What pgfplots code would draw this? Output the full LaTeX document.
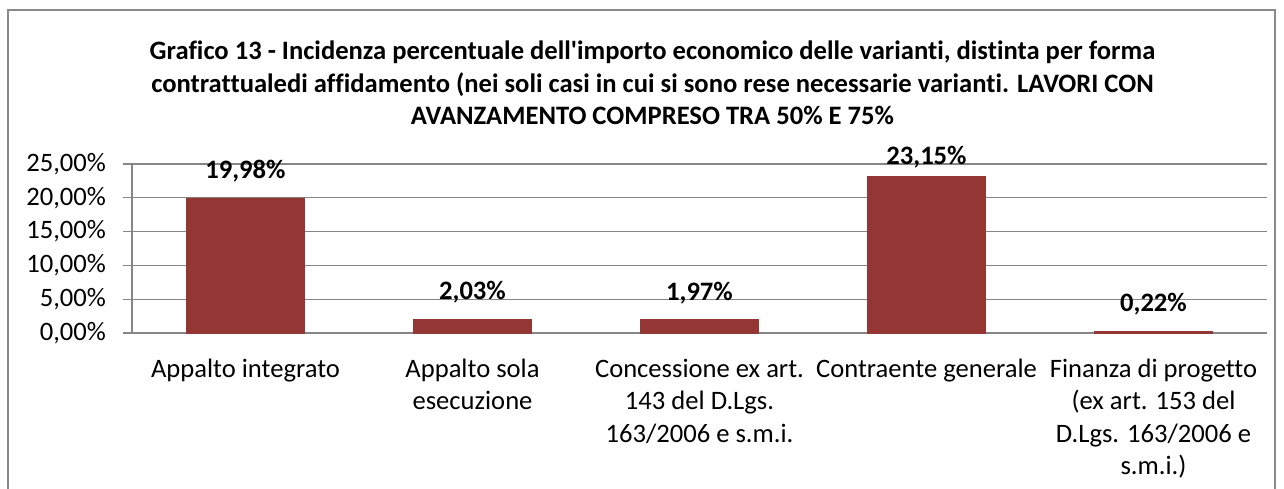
\documentclass[border=0pt]{standalone}
\usepackage{fontspec}
\setmainfont{Carlito}[Ligatures={NoCommon}]
\usepackage{pgfplots}
\pgfplotsset{compat=1.18}
\definecolor{barred}{HTML}{943634}
\definecolor{gridgray}{HTML}{868686}
\definecolor{framegray}{HTML}{8A8A8A}
\pgfplotstableread{
x y s
0 19.98 13.5
1 2.03 13.5
2 1.97 13.5
3 23.15 9.75
4 0.22 13.5
}\datatable
\begin{document}
\begin{tikzpicture}
\useasboundingbox (-66pt,-77.5pt) rectangle (576pt,166.5pt);
\draw[framegray, line width=1pt] (-62pt,-90pt) -- (-62pt,161.5pt) -- (571.5pt,161.5pt) -- (571.5pt,-90pt);
\begin{axis}[
  at={(0,0)}, anchor=south west,
  scale only axis, width=567.5pt, height=84.5pt,
  ybar, bar width=59pt,
  xmin=-0.5, xmax=4.5, ymin=0, ymax=25,
  axis x line*=bottom, axis y line*=left,
  axis line style={gridgray, line width=0.6pt, -},
  ymajorgrids, grid style={gridgray, line width=0.6pt},
  tick align=outside,
  major tick length=4.5pt, minor tick length=4.5pt,
  tick style={gridgray, line width=0.6pt},
  ytick={0,5,10,15,20,25},
  yticklabels={{0,00\%},{5,00\%},{10,00\%},{15,00\%},{20,00\%},{25,00\%}},
  yticklabel style={font=\fontsize{13.3}{16}\selectfont, anchor=east, xshift=-5pt},
  xtick={0,1,2,3,4},
  x tick style={draw=none},
  minor xtick={-0.5,0.5,1.5,2.5,3.5,4.5},
  xticklabels={
    {Appalto integrato},
    {Appalto sola\\esecuzione},
    {Concessione ex art.\\143 del D.Lgs.\\163/2006 e s.m.i.},
    {Contraente generale},
    {Finanza di progetto\\(ex art. 153 del\\D.Lgs. 163/2006 e\\s.m.i.)}},
  xticklabel style={font=\fontsize{13.3}{16.2}\selectfont, align=center, anchor=north, yshift=-5pt},
  /pgf/number format/assume math mode=true,
  visualization depends on={\thisrow{s} \as \labshift},
  nodes near coords={\pgfmathprintnumber[fixed,fixed zerofill,precision=2,use comma]{\pgfplotspointmeta}\%},
  nodes near coords style={font=\bfseries\fontsize{13.3}{16}\selectfont, anchor=center, yshift=\labshift pt, black},
]
\addplot[fill=barred, draw=barred] table[x=x, y=y] {\datatable};
\end{axis}
\node[align=center, font=\bfseries\fontsize{13.3}{16.25}\selectfont] at (260.25pt,125pt)
  {Grafico 13 - Incidenza percentuale dell\textquotesingle importo economico delle varianti, distinta per forma\\
   contrattualedi affidamento (nei soli casi in cui si sono rese necessarie varianti. LAVORI CON\\
   AVANZAMENTO COMPRESO TRA 50\% E 75\%};
\end{tikzpicture}
\end{document}
